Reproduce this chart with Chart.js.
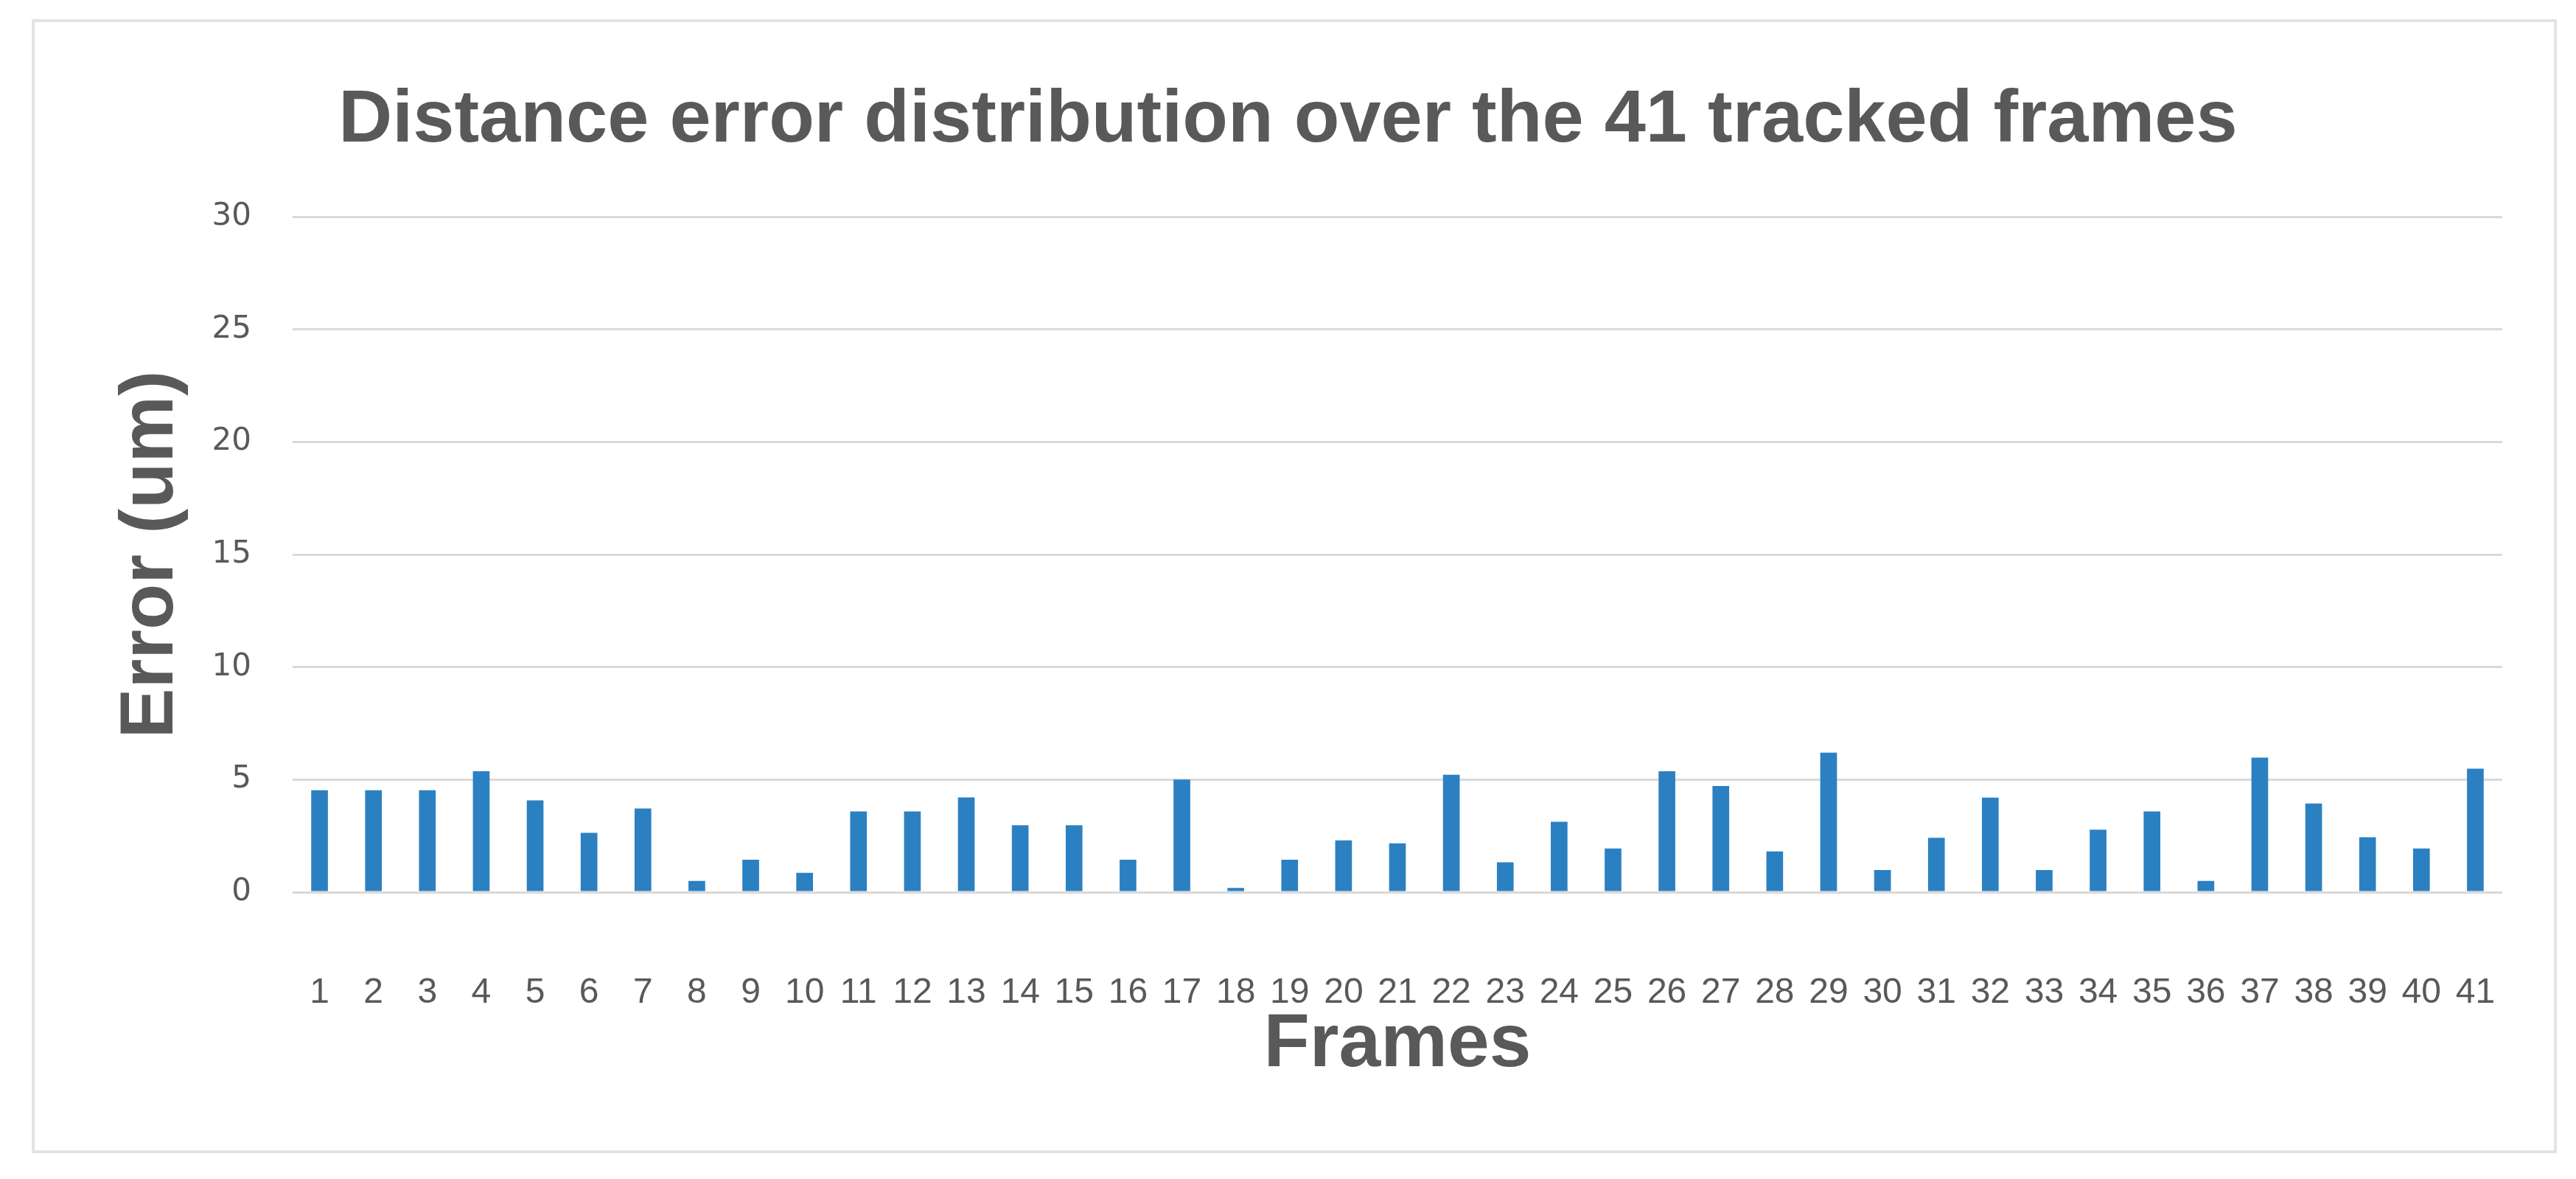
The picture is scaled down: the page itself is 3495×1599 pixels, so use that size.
<!DOCTYPE html>
<html>
<head>
<meta charset="utf-8">
<style>
  html, body { margin: 0; padding: 0; background: #ffffff; }
  #wrap { width: 3495px; height: 1599px; position: relative; }
  canvas { display: block; }
</style>
<script src="https://cdn.jsdelivr.net/npm/chart.js@4/dist/chart.umd.min.js"></script>
</head>
<body>
<div id="wrap"><canvas id="c" width="3495" height="1599"></canvas></div>
<script>
const chartTitle = 'Distance error distribution over the 41 tracked frames';
const xTitle = 'Frames';
const yTitle = 'Error (um)';
const frames = ['1','2','3','4','5','6','7','8','9','10','11','12','13','14','15','16','17','18','19','20','21','22','23','24','25','26','27','28','29','30','31','32','33','34','35','36','37','38','39','40','41'];
const errors = [4.53, 4.53, 4.53, 5.37, 4.08, 2.64, 3.72, 0.5, 1.44, 0.86,
                3.59, 3.59, 4.21, 2.97, 2.97, 1.44, 5.0, 0.19, 1.44, 2.3,
                2.17, 5.22, 1.33, 3.13, 1.94, 5.37, 4.72, 1.81, 6.2, 0.98,
                2.42, 4.2, 0.98, 2.78, 3.59, 0.5, 5.98, 3.94, 2.44, 1.94, 5.49];
const yTicks = [0, 5, 10, 15, 20, 25, 30];

const frameBorder = {
  id: 'frameBorder',
  beforeDraw(chart) {
    const ctx = chart.ctx;
    ctx.save();
    ctx.fillStyle = '#ffffff';
    ctx.fillRect(0, 0, chart.width, chart.height);
    ctx.strokeStyle = '#e3e3e3';
    ctx.lineWidth = 4;
    ctx.strokeRect(45, 28, 3422, 1534);
    ctx.restore();
  }
};

new Chart(document.getElementById('c'), {
  type: 'bar',
  data: {
    labels: frames,
    datasets: [{
      label: 'Error',
      data: errors,
      backgroundColor: '#2b80c2',
      borderWidth: 0,
      barPercentage: 0.31,
      categoryPercentage: 1.0
    }]
  },
  options: {
    responsive: false,
    animation: false,
    devicePixelRatio: 1,
    layout: { padding: { left: 100, right: 100, top: 0, bottom: 0 } },
    plugins: {
      legend: { display: false },
      tooltip: { enabled: false },
      title: {
        display: true,
        text: chartTitle,
        color: '#595959',
        font: { family: 'Liberation Sans', size: 101, weight: 'bold', lineHeight: 1.2 },
        padding: { top: 104, bottom: 69 }
      }
    },
    scales: {
      x: {
        grid: { display: false, drawTicks: false },
        border: { display: false },
        ticks: {
          color: '#595959',
          font: { family: 'Liberation Sans', size: 48 },
          padding: 108,
          autoSkip: false,
          maxRotation: 0,
          minRotation: 0
        },
        title: {
          display: true,
          text: xTitle,
          color: '#595959',
          font: { family: 'Liberation Sans', size: 102, weight: 'bold', lineHeight: 1.2 },
          padding: { top: 0, bottom: 120 }
        },
        afterFit(scale) { scale.height = 1599 - 1210; }
      },
      y: {
        min: 0,
        max: 30,
        afterBuildTicks(scale) { scale.ticks = yTicks.map(v => ({ value: v })); },
        grid: { color: '#d9d9d9', lineWidth: 3, drawTicks: false },
        border: { display: false },
        ticks: {
          color: '#595959',
          font: { family: 'DejaVu Sans', size: 42 },
          padding: 56
        },
        title: {
          display: true,
          text: yTitle,
          color: '#595959',
          font: { family: 'Liberation Sans', size: 102, weight: 'bold', lineHeight: 1.2 },
          padding: { top: 45, bottom: 0 }
        },
        afterFit(scale) { scale.width = 297; }
      }
    }
  },
  plugins: [frameBorder]
});
</script>
</body>
</html>
